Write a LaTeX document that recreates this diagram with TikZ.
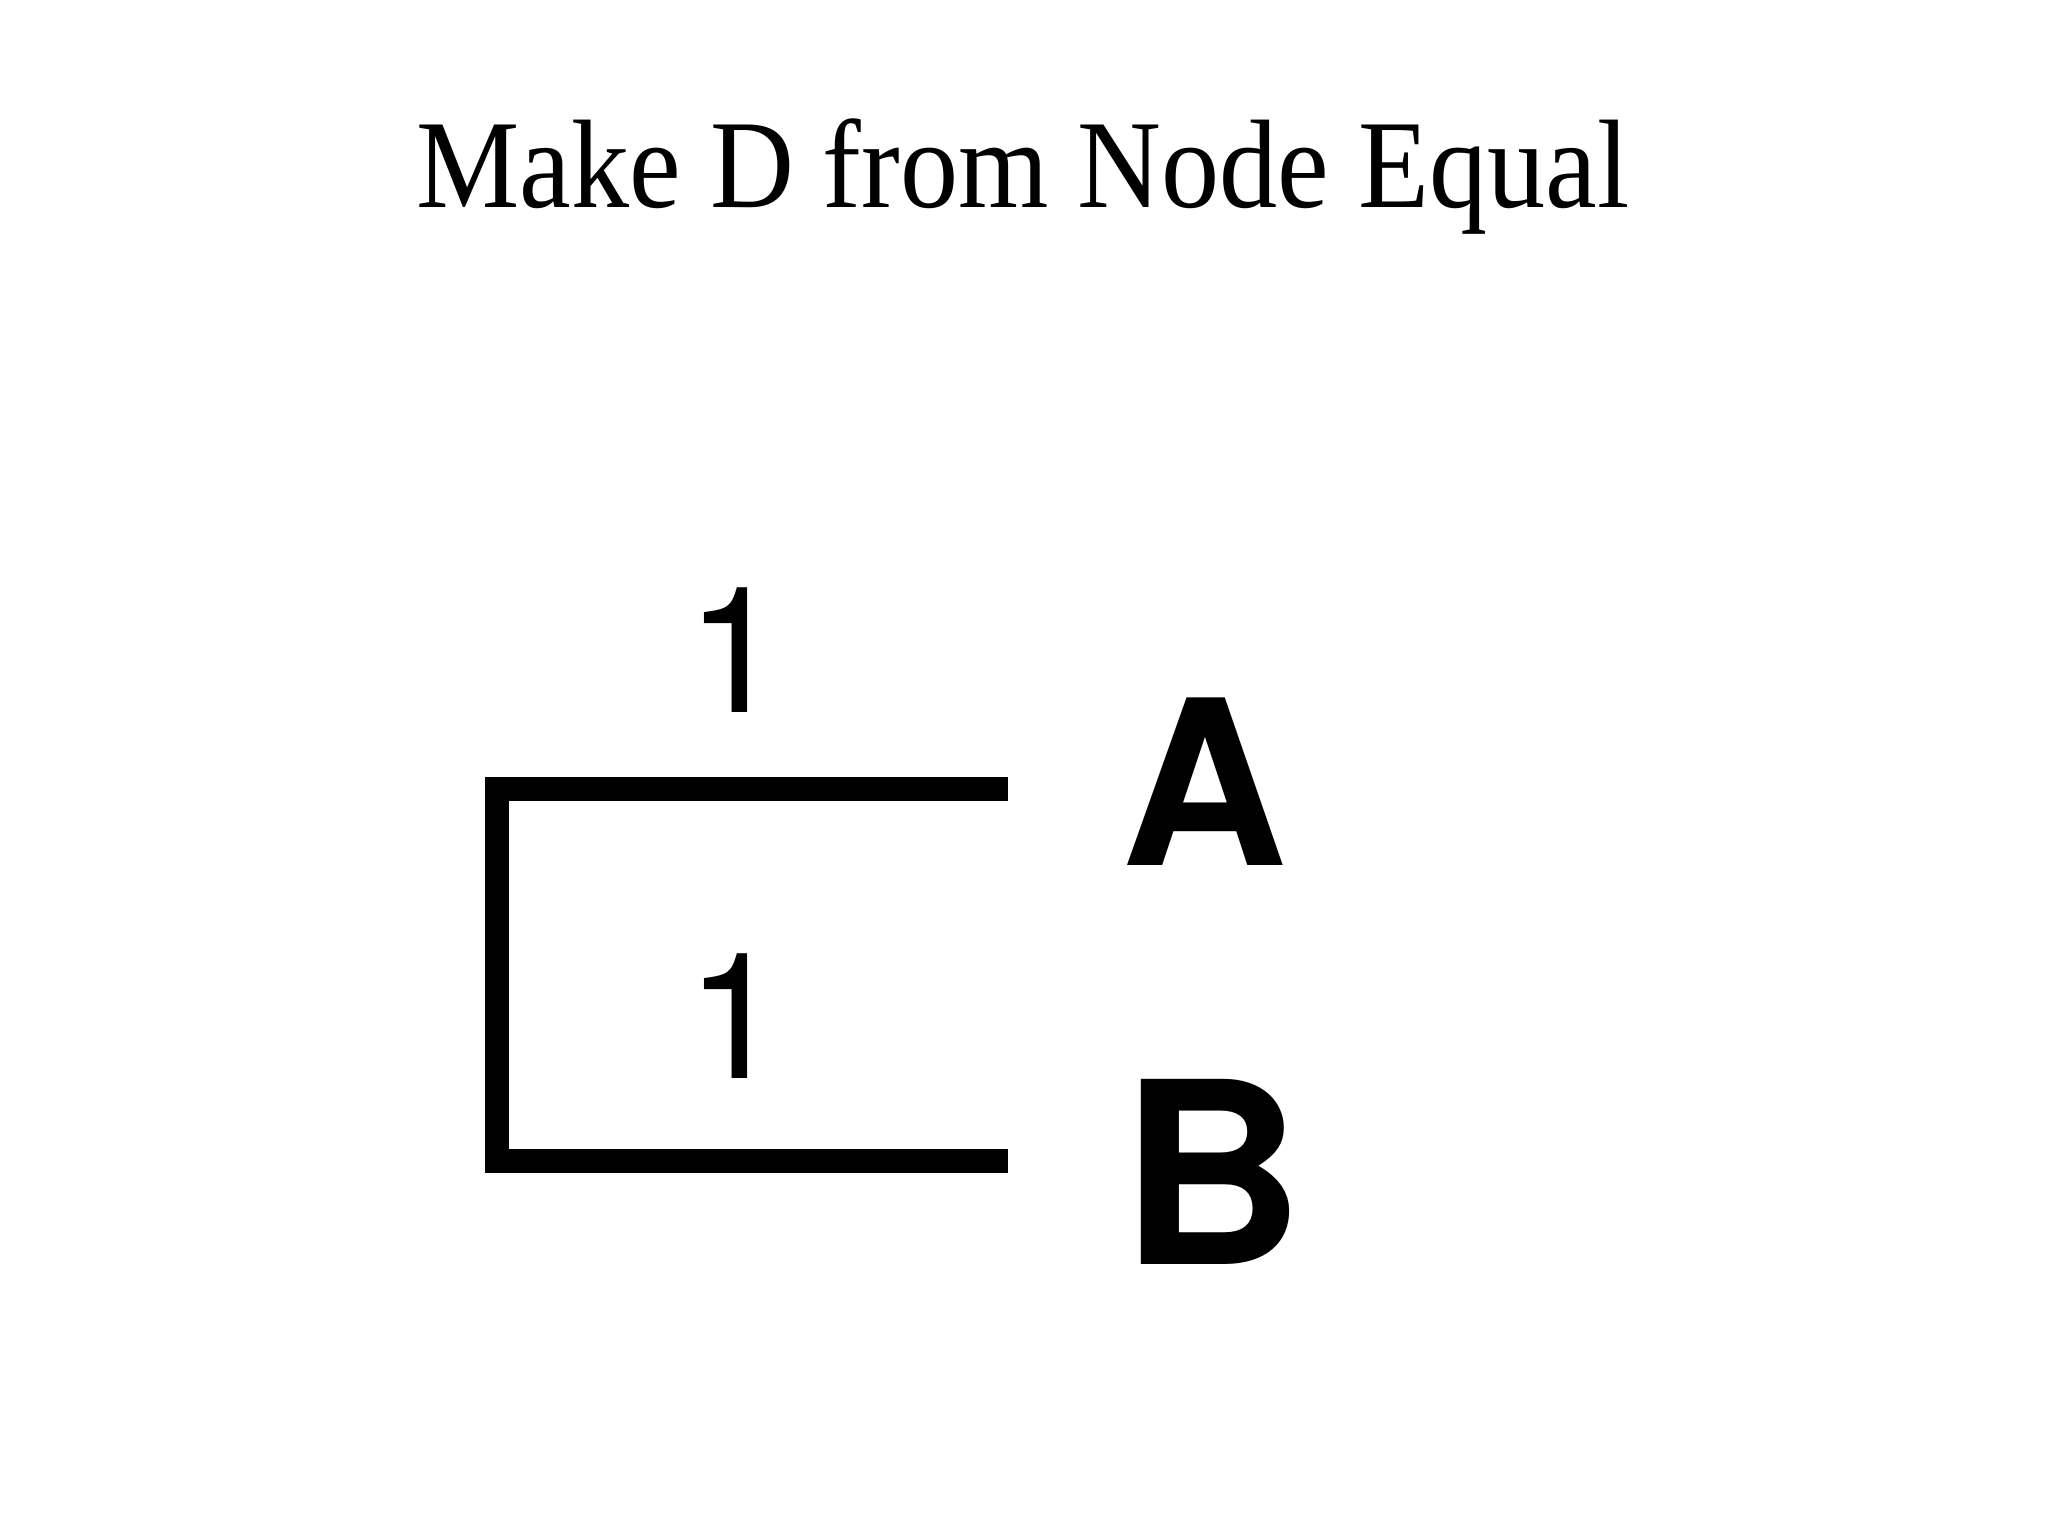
\documentclass[tikz,border=0pt]{standalone}
\usepackage{fontspec}
\setmainfont{Liberation Serif}
\newfontfamily\labfont{TeX Gyre Heros}
\begin{document}
\begin{tikzpicture}[x=0.5pt,y=-0.5pt,
  branch/.style={line width=12pt, line join=miter, line cap=butt},
  title/.style={font=\fontsize{63}{76}\selectfont, anchor=base, inner sep=0pt},
  weight/.style={font=\labfont\fontsize{88}{100}\selectfont, anchor=base, inner sep=0pt},
  leaf/.style={font=\labfont\bfseries\fontsize{115}{135}\selectfont, anchor=base, inner sep=0pt}]
\useasboundingbox (0,0) rectangle (2048,1536);
\node[title] (t) at (1023,207) {\scalebox{0.922}[1]{Make D from Node Equal}};
\coordinate (aend) at (1008,789);
\coordinate (ctop) at (497,789);
\coordinate (cbot) at (497,1161);
\coordinate (bend) at (1008,1161);
\draw[branch] (aend) -- (ctop) -- (cbot) -- (bend);
\node[weight] (w1) at (735,712) {1};
\node[weight] (w2) at (735,1078) {1};
\node[leaf] (A) at (1205,865) {A};
\node[leaf, font=\labfont\bfseries\fontsize{127}{145}\selectfont] (B) at (1212,1264) {B};
\end{tikzpicture}
\end{document}
